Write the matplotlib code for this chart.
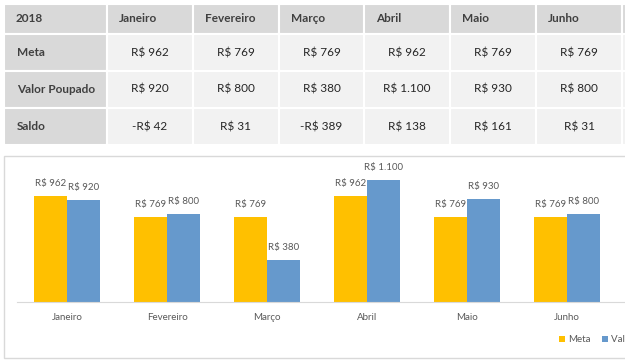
import matplotlib.pyplot as plt
from matplotlib.patches import Rectangle
import numpy as np

# ----------------------------------------------------------------------
# DATA
# ----------------------------------------------------------------------
YEAR_LABEL = "2018"
MONTHS = ["Janeiro", "Fevereiro", "Março", "Abril", "Maio", "Junho"]
ROW_NAMES = ["Meta", "Valor Poupado", "Saldo"]
META = [962, 769, 769, 962, 769, 769]
VALOR_POUPADO = [920, 800, 380, 1100, 930, 800]
SALDO = [-42, 31, -389, 138, 161, 31]

# ----------------------------------------------------------------------
# STYLE
# ----------------------------------------------------------------------
FONT = "Lato"
YELLOW = "#FFC000"
BLUE = "#6699CC"
HEAD_BG = "#D9D9D9"
CELL_BG = "#F2F2F2"
HEAD_TXT = "#404040"
CELL_TXT = "#262626"
LABEL_TXT = "#595959"

plt.rcParams['font.family'] = [FONT, 'DejaVu Sans']


def brl(v):
    s = f"R$ {abs(v):,}".replace(",", ".")
    return "-" + s if v < 0 else s


W, H = 625, 361
fig = plt.figure(figsize=(W / 100, H / 100), dpi=100)
fig.patch.set_facecolor("white")

# background axes in pixel coords for the table and chart frame
bg = fig.add_axes([0, 0, 1, 1])
bg.set_xlim(0, W)
bg.set_ylim(H, 0)
bg.axis("off")

col_edges = [4, 107, 193, 279, 364, 450, 536, 622, 720]
row_edges = [4, 34, 71, 108, 145]

header = [YEAR_LABEL] + MONTHS + [""]
rows = [META, VALOR_POUPADO, SALDO]

for ci in range(len(col_edges) - 1):
    x0, x1 = col_edges[ci], col_edges[ci + 1]
    for ri in range(len(row_edges) - 1):
        y0, y1 = row_edges[ri], row_edges[ri + 1]
        fc = HEAD_BG if (ri == 0 or ci == 0) else CELL_BG
        bg.add_patch(Rectangle((x0, y0), x1 - x0, y1 - y0, facecolor=fc,
                               edgecolor="white", linewidth=1.5))
        yc = (y0 + y1) / 2
        if ri == 0:
            bg.text(x0 + 12, yc, header[ci], ha="left", va="center",
                    fontsize=8.5, fontweight="bold", color=HEAD_TXT)
        elif ci == 0:
            bg.text(x0 + 13, yc, ROW_NAMES[ri - 1], ha="left", va="center",
                    fontsize=8.5, fontweight="bold", color=HEAD_TXT)
        elif ci <= len(MONTHS):
            bg.text((x0 + x1) / 2, yc, brl(rows[ri - 1][ci - 1]), ha="center",
                    va="center", fontsize=8.5, color=CELL_TXT)

# chart frame
bg.add_patch(Rectangle((4, 156), 700, 202, facecolor="white",
                       edgecolor="#D9D9D9", linewidth=1))

# ----------------------------------------------------------------------
# BAR CHART
# ----------------------------------------------------------------------
ax_left, ax_right, ax_bottom, ax_top = 17, 640, 302, 160
ax = fig.add_axes([ax_left / W, (H - ax_bottom) / H,
                   (ax_right - ax_left) / W, (ax_bottom - ax_top) / H])
ax.patch.set_alpha(0)

x = np.arange(len(MONTHS))
w = 0.33
ax.bar(x - w / 2, META, w, color=YELLOW, label="Meta")
ax.bar(x + w / 2, VALOR_POUPADO, w, color=BLUE, label="Valor Poupado")

for xi, m, v in zip(x, META, VALOR_POUPADO):
    ax.annotate(brl(m), (xi - w / 2, m), xytext=(0, 9), textcoords="offset points",
                ha="center", va="center", fontsize=7, color=LABEL_TXT)
    ax.annotate(brl(v), (xi + w / 2, v), xytext=(0, 9), textcoords="offset points",
                ha="center", va="center", fontsize=7, color=LABEL_TXT)

ax.set_xlim(-0.5, (ax_right - ax_left) / 100 - 0.5)
ax.set_ylim(0, (ax_bottom - ax_top) / 0.1105)
ax.set_xticks(x)
ax.set_xticklabels(MONTHS, fontsize=7, color=LABEL_TXT)
ax.tick_params(axis="x", length=0, pad=8)
ax.set_yticks([])
for side in ["top", "left", "right"]:
    ax.spines[side].set_visible(False)
ax.spines["bottom"].set_color("#D9D9D9")

# legend runs past the right edge, as in the source screenshot
fig.legend(loc="center left", bbox_to_anchor=(559 / W, (H - 340) / H), ncol=2,
           frameon=False, fontsize=7, handlelength=0.6, handleheight=0.6,
           handletextpad=0.3, columnspacing=1.2, borderaxespad=0, borderpad=0,
           labelcolor=LABEL_TXT)

fig.savefig("out.png", dpi=100, facecolor="white")
